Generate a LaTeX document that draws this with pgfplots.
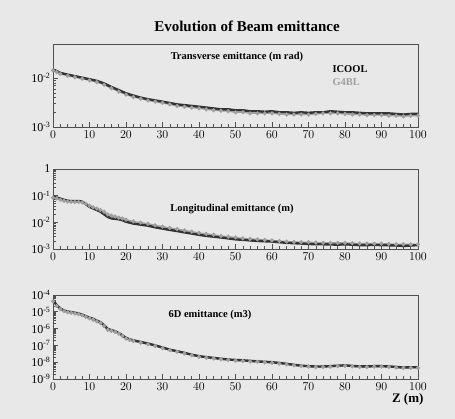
\documentclass[border=0pt]{standalone}
\usepackage{pgfplots}
\pgfplotsset{compat=1.18}
\usepackage{fontspec}
\setmainfont{Liberation Serif}
\definecolor{bg}{HTML}{E8E8E8}
\definecolor{gbl}{HTML}{A0A0A0}
\definecolor{frm}{HTML}{505050}

\pgfplotstableread{
x y
0 0.0150
1 0.0140
2 0.0128
4 0.0118
6 0.0110
8 0.0102
10 0.0095
12 0.0088
14 0.0078
16 0.0066
18 0.0057
20 0.0049
22 0.0044
24 0.0040
26 0.0037
28 0.0035
30 0.0033
32 0.0031
34 0.0029
36 0.0028
38 0.0027
40 0.0026
42 0.0025
44 0.0024
46 0.0023
48 0.0023
50 0.0022
52 0.0022
54 0.0021
56 0.0021
58 0.00205
60 0.0021
62 0.0020
64 0.0020
66 0.00195
68 0.0020
70 0.00195
72 0.0020
74 0.0020
76 0.0021
78 0.00205
80 0.0020
82 0.0020
84 0.00195
86 0.0019
88 0.0019
90 0.0019
92 0.0019
94 0.00185
96 0.0018
98 0.00185
100 0.00185
}\tICOOL
\pgfplotstableread{
x y
0 0.0145
1 0.0133
2 0.0122
4 0.0112
6 0.0104
8 0.0097
10 0.0090
12 0.0083
14 0.0073
16 0.0062
18 0.0053
20 0.0046
22 0.0041
24 0.0038
26 0.0035
28 0.0033
30 0.0031
32 0.0029
34 0.0027
36 0.0026
38 0.0025
40 0.0024
42 0.0023
44 0.0022
46 0.00215
48 0.0021
50 0.0020
52 0.0020
54 0.0019
56 0.0019
58 0.0019
60 0.0019
62 0.00185
64 0.0018
66 0.0018
68 0.0018
70 0.0018
72 0.00185
74 0.0019
76 0.0019
78 0.0019
80 0.00185
82 0.0018
84 0.0018
86 0.00175
88 0.00175
90 0.00175
92 0.0017
94 0.0017
96 0.00165
98 0.0017
100 0.0017
}\tGFOUR
\pgfplotstableread{
x y
0 0.090
1 0.085
2 0.078
3 0.070
4 0.065
5 0.062
6 0.062
7 0.063
8 0.060
9 0.048
10 0.038
11 0.033
12 0.029
13 0.025
14 0.020
15 0.016
16 0.014
17 0.0135
18 0.013
19 0.012
20 0.0105
22 0.0090
24 0.0082
26 0.0075
28 0.0065
30 0.0058
32 0.0052
34 0.0047
36 0.0042
38 0.0038
40 0.0034
42 0.0031
44 0.0029
46 0.0027
48 0.0025
50 0.0023
52 0.0022
54 0.0021
56 0.0020
58 0.00195
60 0.0019
62 0.0018
64 0.0017
66 0.00165
68 0.0016
70 0.00155
72 0.0015
74 0.0015
76 0.00148
78 0.00145
80 0.0015
82 0.00145
84 0.0014
86 0.0014
88 0.00142
90 0.0014
92 0.00138
94 0.00135
96 0.0013
98 0.00135
100 0.0014
}\lICOOL
\pgfplotstableread{
x y
0 0.085
1 0.078
2 0.070
3 0.064
4 0.060
5 0.058
6 0.058
7 0.058
8 0.056
9 0.050
10 0.042
11 0.037
12 0.033
13 0.029
14 0.025
15 0.020
16 0.018
17 0.0165
18 0.015
19 0.014
20 0.0125
22 0.0108
24 0.0098
26 0.0088
28 0.0078
30 0.0069
32 0.0062
34 0.0056
36 0.0050
38 0.0045
40 0.0040
42 0.0037
44 0.0034
46 0.0031
48 0.0029
50 0.0027
52 0.0025
54 0.0024
56 0.0023
58 0.0022
60 0.0021
62 0.0020
64 0.0019
66 0.00185
68 0.0018
70 0.0018
72 0.00175
74 0.0017
76 0.0017
78 0.0017
80 0.0017
82 0.00165
84 0.0016
86 0.0016
88 0.0016
90 0.0016
92 0.00155
94 0.0015
96 0.0015
98 0.0015
100 0.0015
}\lGFOUR
\pgfplotstableread{
x y
0 5e-5
1 2.5e-5
2 1.6e-5
3 1.2e-5
4 1.05e-5
5 9.5e-6
6 8.8e-6
7 8e-6
8 6.8e-6
9 5.5e-6
10 4.5e-6
11 3.8e-6
12 3e-6
13 2.4e-6
14 1.6e-6
15 9.5e-7
16 8e-7
17 7e-7
18 5.5e-7
19 4e-7
20 2.8e-7
21 2.3e-7
22 2.0e-7
24 1.6e-7
26 1.3e-7
28 1.0e-7
30 7.5e-8
32 5.6e-8
34 4.5e-8
36 3.6e-8
38 2.8e-8
40 2.3e-8
42 2.0e-8
44 1.8e-8
46 1.6e-8
48 1.45e-8
50 1.35e-8
52 1.3e-8
54 1.2e-8
56 1.12e-8
58 1.05e-8
60 1.0e-8
62 9e-9
64 8e-9
66 7e-9
68 6.2e-9
70 5.8e-9
72 5.5e-9
74 5.6e-9
76 5.8e-9
78 6.2e-9
80 6.5e-9
82 6.0e-9
84 5.6e-9
86 5.6e-9
88 5.8e-9
90 5.8e-9
92 5.6e-9
94 5.2e-9
96 4.8e-9
98 5.0e-9
100 5.0e-9
}\sICOOL
\pgfplotstableread{
x y
0 4.2e-5
1 2.2e-5
2 1.45e-5
3 1.1e-5
4 9.5e-6
5 8.6e-6
6 8e-6
7 7.2e-6
8 6.2e-6
9 5e-6
10 4.1e-6
11 3.4e-6
12 2.7e-6
13 2.1e-6
14 1.4e-6
15 8.5e-7
16 7.2e-7
17 6.3e-7
18 5e-7
19 3.6e-7
20 2.5e-7
21 2.1e-7
22 1.8e-7
24 1.45e-7
26 1.18e-7
28 9.2e-8
30 6.9e-8
32 5.2e-8
34 4.2e-8
36 3.3e-8
38 2.6e-8
40 2.1e-8
42 1.85e-8
44 1.65e-8
46 1.48e-8
48 1.35e-8
50 1.25e-8
52 1.2e-8
54 1.1e-8
56 1.05e-8
58 9.8e-9
60 9.2e-9
62 8.3e-9
64 7.4e-9
66 6.5e-9
68 5.8e-9
70 5.4e-9
72 5.1e-9
74 5.2e-9
76 5.4e-9
78 5.8e-9
80 6.0e-9
82 5.6e-9
84 5.2e-9
86 5.2e-9
88 5.4e-9
90 5.4e-9
92 5.2e-9
94 4.8e-9
96 4.5e-9
98 4.6e-9
100 4.6e-9
}\sGFOUR

\pgfplotsset{
  panel/.style={
    scale only axis, width=365pt,
    xmin=0, xmax=100,
    axis background/.style={fill=bg},
    axis line style={frm, line width=0.8pt},
    tick pos=left, tick align=inside,
    xtick={0,10,...,100}, minor x tick num=4,
    major tick length=5pt, minor tick length=3pt,
    every tick/.style={frm, line width=0.6pt},
    tick label style={font=\fontsize{12}{13}\selectfont},
    xticklabel style={yshift=0pt},
    yticklabel style={xshift=1pt},
  },
  ic/.style={black!80, line width=2.4pt, line join=round},
  gb/.style={gbl, line width=1.2pt, mark=*, mark size=1.4pt, mark options={fill=gbl,draw=gbl}},
}

\begin{document}
\begin{tikzpicture}[x=1pt,y=1pt]
\fill[bg] (0,0) rectangle (455,419);
\node[font=\fontsize{15}{18}\selectfont\bfseries] at (247,393) {Evolution of Beam emittance};

\begin{axis}[ymode=log, panel, at={(53pt,292pt)}, anchor=south west, height=83pt,
  ymin=1e-3, ymax=0.05,
  ytick={1e-3,1e-2}, yticklabels={10\textsuperscript{-3},10\textsuperscript{-2}}]
\addplot[gb] table {\tGFOUR};
\addplot[ic] table {\tICOOL};
\end{axis}
\node[font=\fontsize{10.5}{12}\selectfont\bfseries] at (237,362) {Transverse emittance (m rad)};
\node[font=\fontsize{10.5}{12}\selectfont\bfseries, anchor=west] at (329,350) {ICOOL};
\node[font=\fontsize{10.5}{12}\selectfont\bfseries, anchor=west, text=gbl] at (329,337) {G4BL};

\begin{axis}[ymode=log, panel, at={(53pt,170pt)}, anchor=south west, height=80pt,
  ymin=1e-3, ymax=1,
  ytick={1e-3,1e-2,1e-1,1}, yticklabels={10\textsuperscript{-3},10\textsuperscript{-2},10\textsuperscript{-1},1}]
\addplot[gb] table {\lGFOUR};
\addplot[ic] table {\lICOOL};
\end{axis}
\node[font=\fontsize{10.5}{12}\selectfont\bfseries] at (232,210) {Longitudinal emittance (m)};

\begin{axis}[ymode=log, panel, at={(53pt,40pt)}, anchor=south west, height=84pt,
  ymin=1e-9, ymax=1e-4,
  ytick={1e-9,1e-8,1e-7,1e-6,1e-5,1e-4},
  yticklabels={10\textsuperscript{-9},10\textsuperscript{-8},10\textsuperscript{-7},10\textsuperscript{-6},10\textsuperscript{-5},10\textsuperscript{-4}}]
\addplot[gb] table {\sGFOUR};
\addplot[ic] table {\sICOOL};
\end{axis}
\node[font=\fontsize{10.5}{12}\selectfont\bfseries] at (210,104) {6D emittance (m3)};
\node[font=\fontsize{13}{15}\selectfont\bfseries, anchor=east] at (427,20) {Z (m)};
\end{tikzpicture}
\end{document}
